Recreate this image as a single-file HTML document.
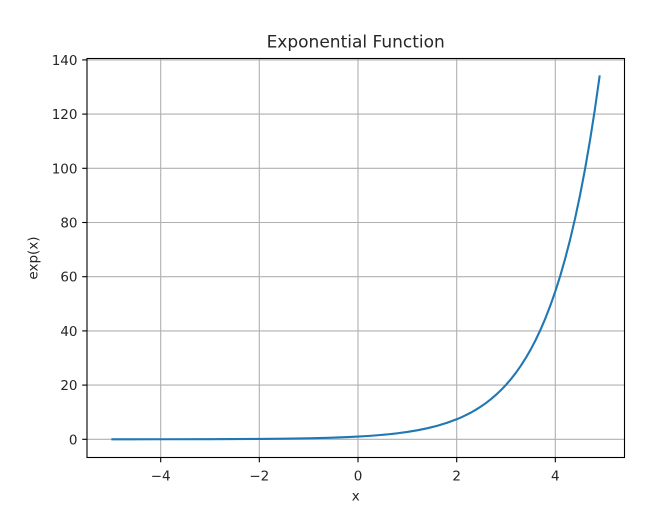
<!DOCTYPE html>
<html>
<head>
<meta charset="utf-8">
<style>
  html, body { margin: 0; padding: 0; background: #ffffff; }
  svg { display: block; }
  text { font-family: "DejaVu Sans", "Liberation Sans", sans-serif; fill: #262626; }
</style>
</head>
<body>
<svg width="654" height="526" viewBox="0 0 654 526" xmlns="http://www.w3.org/2000/svg">
  <rect x="0" y="0" width="654" height="526" fill="#ffffff"/>

  <!-- grid -->
  <g stroke="#b0b0b0" stroke-width="1.1" fill="none">
    <line x1="160.7" y1="58.5" x2="160.7" y2="457.5"/>
    <line x1="259.3" y1="58.5" x2="259.3" y2="457.5"/>
    <line x1="358" y1="58.5" x2="358" y2="457.5"/>
    <line x1="456.7" y1="58.5" x2="456.7" y2="457.5"/>
    <line x1="555.3" y1="58.5" x2="555.3" y2="457.5"/>

    <line x1="87" y1="439.3" x2="624.5" y2="439.3"/>
    <line x1="87" y1="385.1" x2="624.5" y2="385.1"/>
    <line x1="87" y1="330.9" x2="624.5" y2="330.9"/>
    <line x1="87" y1="276.7" x2="624.5" y2="276.7"/>
    <line x1="87" y1="222.5" x2="624.5" y2="222.5"/>
    <line x1="87" y1="168.3" x2="624.5" y2="168.3"/>
    <line x1="87" y1="114.1" x2="624.5" y2="114.1"/>
    <line x1="87" y1="59.9" x2="624.5" y2="59.9"/>
  </g>

  <!-- data line -->
  <polyline fill="none" stroke="#1f77b4" stroke-width="2.1" stroke-linejoin="round" stroke-linecap="butt"
    points="111.35,439.28 160.68,439.25 210.0,439.17 259.34,438.93 284.0,438.70 308.67,438.30 318.54,438.08 328.40,437.81 338.27,437.48 348.13,437.08 358,436.59 367.87,435.99 377.73,435.26 387.60,434.36 397.46,433.27 407.33,431.93 417.20,430.30 427.06,428.31 436.93,425.88 446.79,422.91 456.66,419.28 461.59,417.17 466.53,414.84 471.46,412.27 476.39,409.43 481.33,406.29 486.26,402.81 491.19,398.98 496.12,394.73 501.06,390.05 505.99,384.87 510.92,379.14 515.86,372.82 520.79,365.83 525.72,358.10 530.66,349.56 535.59,340.12 540.52,329.69 545.45,318.16 550.39,305.42 555.32,291.34 560.25,275.78 565.19,258.58 570.12,239.57 575.05,218.57 579.99,195.35 584.92,169.70 589.85,141.35 594.78,110.02 599.72,75.39"/>

  <!-- spines -->
  <rect x="87" y="58.5" width="537.5" height="399" fill="none" stroke="#000000" stroke-width="1.1"/>

  <!-- ticks -->
  <g stroke="#000000" stroke-width="1.1">
    <line x1="160.7" y1="457.5" x2="160.7" y2="462.3"/>
    <line x1="259.3" y1="457.5" x2="259.3" y2="462.3"/>
    <line x1="358" y1="457.5" x2="358" y2="462.3"/>
    <line x1="456.7" y1="457.5" x2="456.7" y2="462.3"/>
    <line x1="555.3" y1="457.5" x2="555.3" y2="462.3"/>

    <line x1="82.2" y1="439.3" x2="87" y2="439.3"/>
    <line x1="82.2" y1="385.1" x2="87" y2="385.1"/>
    <line x1="82.2" y1="330.9" x2="87" y2="330.9"/>
    <line x1="82.2" y1="276.7" x2="87" y2="276.7"/>
    <line x1="82.2" y1="222.5" x2="87" y2="222.5"/>
    <line x1="82.2" y1="168.3" x2="87" y2="168.3"/>
    <line x1="82.2" y1="114.1" x2="87" y2="114.1"/>
    <line x1="82.2" y1="59.9" x2="87" y2="59.9"/>
  </g>

  <!-- x tick labels -->
  <g font-size="13.5" text-anchor="middle">
    <text x="160.7" y="480.5">−4</text>
    <text x="259.3" y="480.5">−2</text>
    <text x="358" y="480.5">0</text>
    <text x="456.7" y="480.5">2</text>
    <text x="555.3" y="480.5">4</text>
  </g>

  <!-- y tick labels -->
  <g font-size="13.5" text-anchor="end">
    <text x="77.5" y="444.3">0</text>
    <text x="77.5" y="390.1">20</text>
    <text x="77.5" y="335.9">40</text>
    <text x="77.5" y="281.7">60</text>
    <text x="77.5" y="227.5">80</text>
    <text x="77.5" y="173.3">100</text>
    <text x="77.5" y="119.1">120</text>
    <text x="77.5" y="64.9">140</text>
  </g>

  <!-- axis labels -->
  <text x="355.7" y="500.5" font-size="13.5" text-anchor="middle">x</text>
  <text x="0" y="0" font-size="13.5" text-anchor="middle" transform="translate(37.6,258) rotate(-90)">exp(x)</text>

  <!-- title -->
  <text x="355.7" y="47.5" font-size="17" text-anchor="middle">Exponential Function</text>
</svg>
</body>
</html>
